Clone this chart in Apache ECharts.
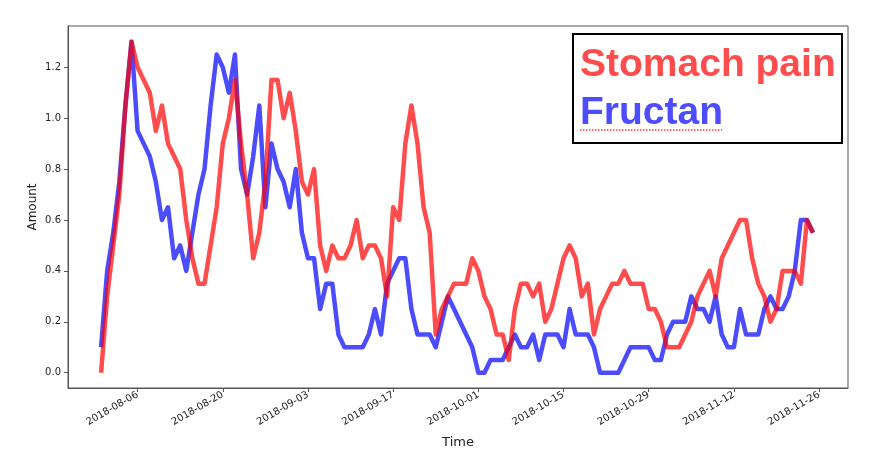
<!DOCTYPE html>
<html>
<head>
<meta charset="utf-8">
<script src="https://cdn.jsdelivr.net/npm/echarts@6/dist/echarts.min.js"></script>
<style>
html,body{margin:0;padding:0;background:#fff;}
#chart{width:878px;height:464px;}
</style>
</head>
<body>
<div id="chart"></div>
<script>
// ---- data ----
const dates = [
'2018-07-31',
'2018-08-01','2018-08-02','2018-08-03','2018-08-04','2018-08-05','2018-08-06','2018-08-07','2018-08-08','2018-08-09','2018-08-10',
'2018-08-11','2018-08-12','2018-08-13','2018-08-14','2018-08-15','2018-08-16','2018-08-17','2018-08-18','2018-08-19','2018-08-20',
'2018-08-21','2018-08-22','2018-08-23','2018-08-24','2018-08-25','2018-08-26','2018-08-27','2018-08-28','2018-08-29','2018-08-30','2018-08-31',
'2018-09-01','2018-09-02','2018-09-03','2018-09-04','2018-09-05','2018-09-06','2018-09-07','2018-09-08','2018-09-09','2018-09-10',
'2018-09-11','2018-09-12','2018-09-13','2018-09-14','2018-09-15','2018-09-16','2018-09-17','2018-09-18','2018-09-19','2018-09-20',
'2018-09-21','2018-09-22','2018-09-23','2018-09-24','2018-09-25','2018-09-26','2018-09-27','2018-09-28','2018-09-29','2018-09-30',
'2018-10-01','2018-10-02','2018-10-03','2018-10-04','2018-10-05','2018-10-06','2018-10-07','2018-10-08','2018-10-09','2018-10-10',
'2018-10-11','2018-10-12','2018-10-13','2018-10-14','2018-10-15','2018-10-16','2018-10-17','2018-10-18','2018-10-19','2018-10-20',
'2018-10-21','2018-10-22','2018-10-23','2018-10-24','2018-10-25','2018-10-26','2018-10-27','2018-10-28','2018-10-29','2018-10-30','2018-10-31',
'2018-11-01','2018-11-02','2018-11-03','2018-11-04','2018-11-05','2018-11-06','2018-11-07','2018-11-08','2018-11-09','2018-11-10',
'2018-11-11','2018-11-12','2018-11-13','2018-11-14','2018-11-15','2018-11-16','2018-11-17','2018-11-18','2018-11-19','2018-11-20',
'2018-11-21','2018-11-22','2018-11-23','2018-11-24','2018-11-25'
];

const stomachPain = [
0.0, 0.3, 0.5, 0.7, 1.05, 1.3, 1.2, 1.15, 1.1, 0.95,
1.05, 0.9, 0.85, 0.8, 0.6, 0.45, 0.35, 0.35, 0.5, 0.65,
0.9, 1.0, 1.15, 0.9, 0.7, 0.45, 0.55, 0.75, 1.15, 1.15,
1.0, 1.1, 0.95, 0.75, 0.7, 0.8, 0.5, 0.4, 0.5, 0.45,
0.45, 0.5, 0.6, 0.45, 0.5, 0.5, 0.45, 0.3, 0.65, 0.6,
0.9, 1.05, 0.9, 0.65, 0.55, 0.15, 0.25, 0.3, 0.35, 0.35,
0.35, 0.45, 0.4, 0.3, 0.25, 0.15, 0.15, 0.05, 0.25, 0.35,
0.35, 0.3, 0.35, 0.2, 0.25, 0.35, 0.45, 0.5, 0.45, 0.3,
0.35, 0.15, 0.25, 0.3, 0.35, 0.35, 0.4, 0.35, 0.35, 0.35,
0.25, 0.25, 0.2, 0.1, 0.1, 0.1, 0.15, 0.2, 0.3, 0.35,
0.4, 0.3, 0.45, 0.5, 0.55, 0.6, 0.6, 0.45, 0.35, 0.3,
0.2, 0.25, 0.4, 0.4, 0.4, 0.35, 0.6, 0.55
];

const fructan = [
0.1, 0.4, 0.55, 0.75, 1.05, 1.3, 0.95, 0.9, 0.85, 0.75,
0.6, 0.65, 0.45, 0.5, 0.4, 0.55, 0.7, 0.8, 1.05, 1.25,
1.2, 1.1, 1.25, 0.8, 0.7, 0.85, 1.05, 0.65, 0.9, 0.8,
0.75, 0.65, 0.8, 0.55, 0.45, 0.45, 0.25, 0.35, 0.35, 0.15,
0.1, 0.1, 0.1, 0.1, 0.15, 0.25, 0.15, 0.35, 0.4, 0.45,
0.45, 0.25, 0.15, 0.15, 0.15, 0.1, 0.2, 0.3, 0.25, 0.2,
0.15, 0.1, 0.0, 0.0, 0.05, 0.05, 0.05, 0.1, 0.15, 0.1,
0.1, 0.15, 0.05, 0.15, 0.15, 0.15, 0.1, 0.25, 0.15, 0.15,
0.15, 0.1, 0.0, 0.0, 0.0, 0.0, 0.05, 0.1, 0.1, 0.1,
0.1, 0.05, 0.05, 0.15, 0.2, 0.2, 0.2, 0.3, 0.25, 0.25,
0.2, 0.3, 0.15, 0.1, 0.1, 0.25, 0.15, 0.15, 0.15, 0.25,
0.3, 0.25, 0.25, 0.3, 0.4, 0.6, 0.6, 0.55
];

const xTickLabels = ['2018-08-06','2018-08-20','2018-09-03','2018-09-17','2018-10-01','2018-10-15','2018-10-29','2018-11-12','2018-11-26'];
const yTickLabels = ['0.0','0.2','0.4','0.6','0.8','1.0','1.2'];
const seriesNames = ['Stomach pain', 'Fructan'];

// ---- chart ----
const chart = echarts.init(document.getElementById('chart'), null, {renderer: 'canvas'});
const toTs = s => {
  const m = s.match(/(\d+)-(\d+)-(\d+)(?: (\d+):(\d+))?/);
  return Date.UTC(+m[1], +m[2] - 1, +m[3], m[4] ? +m[4] : 0, m[5] ? +m[5] : 0);
};
const xTickValues = xTickLabels.map(toTs);
const yTickValues = yTickLabels.map(Number);
const fmtDate = v => new Date(v).toISOString().slice(0, 10);

const RED = '#ff0000', BLUE = '#0000ff';
const textFont = 'DejaVu Sans';

chart.setOption({
  animation: false,
  backgroundColor: '#fff',
  grid: {left: 68, right: 30, top: 26, bottom: 76, show: true, borderColor: '#555', borderWidth: 1, backgroundColor: 'transparent'},
  xAxis: {
    type: 'value',
    min: toTs('2018-07-25 13:30'),
    max: toTs('2018-11-30 18:00'),
    name: 'Time',
    nameLocation: 'middle',
    nameGap: 48,
    nameMoveOverlap: false,
    nameTextStyle: {fontFamily: textFont, fontSize: 13, color: '#222'},
    axisLine: {show: true, onZero: false, lineStyle: {color: '#555', width: 1}},
    axisTick: {show: true, length: 4, lineStyle: {color: '#555'}, customValues: xTickValues},
    axisLabel: {show: true, rotate: 30, margin: 6, fontFamily: textFont, fontSize: 10, color: '#222',
      customValues: xTickValues, formatter: v => fmtDate(v), hideOverlap: false},
    splitLine: {show: false}
  },
  yAxis: {
    type: 'value',
    min: -0.06,
    max: 1.362,
    name: 'Amount',
    nameLocation: 'middle',
    nameGap: 29,
    nameMoveOverlap: false,
    nameRotate: 90,
    nameTextStyle: {fontFamily: textFont, fontSize: 12, color: '#222'},
    axisLine: {show: true, onZero: false, lineStyle: {color: '#555', width: 1}},
    axisTick: {show: true, length: 4, lineStyle: {color: '#555'}, customValues: yTickValues},
    axisLabel: {show: true, margin: 7, fontFamily: textFont, fontSize: 10, color: '#222',
      customValues: yTickValues, formatter: v => Number(v).toFixed(1)},
    splitLine: {show: false}
  },
  series: [
    {
      name: seriesNames[1], type: 'line', showSymbol: false, symbol: 'none',
      lineStyle: {color: BLUE, width: 4.5, opacity: 0.7, join: 'round'},
      itemStyle: {color: BLUE},
      data: dates.map((d, i) => [toTs(d), fructan[i]]),
      z: 2
    },
    {
      name: seriesNames[0], type: 'line', showSymbol: false, symbol: 'none',
      lineStyle: {color: RED, width: 4.5, opacity: 0.7, join: 'round'},
      itemStyle: {color: RED},
      data: dates.map((d, i) => [toTs(d), stomachPain[i]]),
      z: 3
    }
  ],
  graphic: [
    {type: 'rect', shape: {x: 573, y: 34, width: 269, height: 109}, style: {fill: '#fff', stroke: '#000', lineWidth: 2}, z: 10},
    {type: 'text', x: 580, y: 65, style: {text: seriesNames[0], fill: '#ff4d4d', font: 'bold 39px "Liberation Sans", Arial, sans-serif', verticalAlign: 'middle', align: 'left'}, z: 11},
    {type: 'text', x: 580, y: 113.5, style: {text: seriesNames[1], fill: '#4d4dff', font: 'bold 39px "Liberation Sans", Arial, sans-serif', verticalAlign: 'middle', align: 'left'}, z: 11},
    {type: 'line', shape: {x1: 580, y1: 130, x2: 722, y2: 130}, style: {stroke: '#ff3b3b', lineWidth: 1.5, lineDash: [1.5, 1.5]}, z: 11}
  ]
});
</script>
</body>
</html>
